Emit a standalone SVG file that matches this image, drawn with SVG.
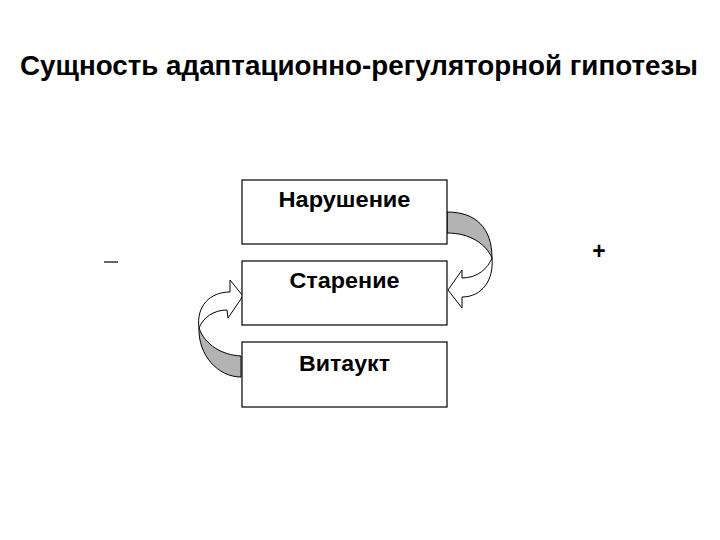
<svg xmlns="http://www.w3.org/2000/svg" width="720" height="540" viewBox="0 0 720 540">
<style>
.t{font-family:"Liberation Sans",Arial,sans-serif;font-weight:bold;fill:#000}
.box{fill:#fff;stroke:#000;stroke-width:1.2}
.back{fill:#b3b3b3;stroke:#000;stroke-width:1}
.front{fill:#fff;stroke:#000;stroke-width:1}
</style>
<rect width="720" height="540" fill="#fff"/>
<text class="t" x="20" y="75" font-size="28" textLength="678" lengthAdjust="spacingAndGlyphs">Сущность адаптационно-регуляторной гипотезы</text>
<g id="connectors">
<g id="arrow-right">
<path class="back" d="M447,212 C476,212 492,228 492,258 C486,244 470,233 447,233 Z"/>
<path class="front" d="M492,258 C494,280 482,297 462,297 L462,308 L448,290 L462,270 L462,278 C478,278 488,268 492,258 Z"/>
</g>
<g id="arrow-left">
<path class="back" d="M241,356 C222,355 205,345 199,328 C198,355 218,377 241,377 Z"/>
<path class="front" d="M199,328 C196,306 210,292 230,292 L230,280 L243,296 L228,318 L227,310 C213,310 203,318 199,328 Z"/>
</g>
</g>
<g id="node-narushenie">
<rect class="box" x="242" y="180" width="205" height="64"/>
<text class="t" x="344.5" y="207" font-size="22" text-anchor="middle" textLength="132" lengthAdjust="spacingAndGlyphs">Нарушение</text>
</g>
<g id="node-starenie">
<rect class="box" x="242" y="261" width="205" height="64"/>
<text class="t" x="344.5" y="288" font-size="22" text-anchor="middle" textLength="110" lengthAdjust="spacingAndGlyphs">Старение</text>
</g>
<g id="node-vitaukt">
<rect class="box" x="242" y="342" width="205" height="65"/>
<text class="t" x="344.5" y="371" font-size="22" text-anchor="middle" textLength="91" lengthAdjust="spacingAndGlyphs">Витаукт</text>
</g>
<g id="minus">
<line x1="104" y1="262" x2="118" y2="262" stroke="#000" stroke-width="1.2"/>
</g>
<g id="plus">
<text class="t" x="599" y="259" font-size="23" text-anchor="middle">+</text>
</g>
</svg>
